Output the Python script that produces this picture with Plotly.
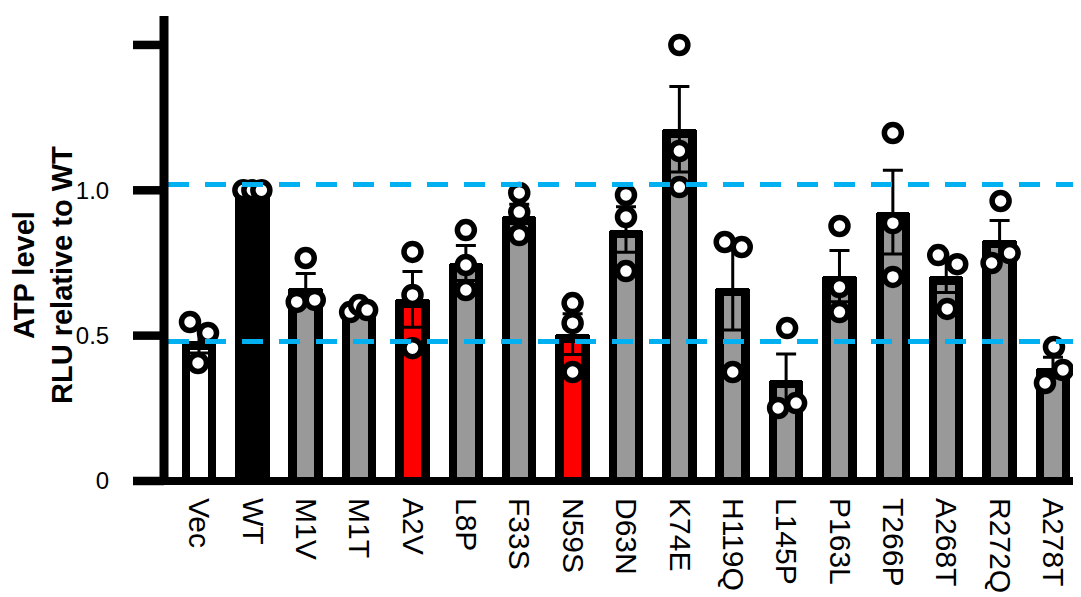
import plotly.graph_objects as go

# ---------------- data ----------------
categories = ["Vec", "WT", "M1V", "M1T", "A2V", "L8P", "F33S", "N59S", "D63N",
              "K74E", "H119Q", "L145P", "P163L", "T266P", "A268T", "R272Q", "A278T"]
means = [0.48, 1.00, 0.665, 0.59, 0.625, 0.75, 0.91, 0.505, 0.865,
         1.21, 0.665, 0.348, 0.705, 0.925, 0.705, 0.83, 0.39]
sems = [0.04, 0.0, 0.049, 0.007, 0.096, 0.06, 0.042, 0.07, 0.078,
        0.147, 0.146, 0.089, 0.088, 0.144, 0.057, 0.066, 0.036]
rep1 = [0.547, 1.0, 0.616, 0.581, 0.788, 0.863, 0.991, 0.612, 0.984,
        1.50, 0.822, 0.526, 0.877, 1.197, 0.777, 0.963, 0.461]
rep2 = [0.509, 1.0, 0.623, 0.605, 0.64, 0.743, 0.925, 0.543, 0.908,
        1.135, 0.805, 0.251, 0.667, 0.887, 0.746, 0.784, 0.382]
rep3 = [0.406, 1.0, 0.767, 0.588, 0.457, 0.657, 0.846, 0.375, 0.722,
        1.011, 0.375, 0.268, 0.581, 0.702, 0.592, 0.75, 0.337]
ref_lines = [1.02, 0.48]
y_ticks = [0, 0.5, 1.0, 1.5]
y_ticklabels = ["0", "0.5", "1.0", ""]

# ---------------- styling ----------------
FONT = "Liberation Sans, Arial, Helvetica, sans-serif"
GREY = "#999999"
special = {"Vec": "#FFFFFF", "WT": "#000000", "A2V": "#FF0000", "N59S": "#FF0000"}
fill_colors = [special.get(c, GREY) for c in categories]

# horizontal scatter of replicate dots (pixels)
jitter1 = [-9, -9, -9, -9, 0, 0, 0, 0, 0, 0, -8, 1, 0, 0, -8, 1, 1]
jitter2 = [9, 0, 9, 0, 0, 0, 0, 0, 0, 0, 9, -8, 0, 0, 11, 10, 10]
jitter3 = [-1, 9, 0, 8, 0, 0, 0, 0, 0, 0, 0, 10, 0, 0, 1, -8, -8]

# page body has an 8px margin -> figure is 8px smaller and shifted
W, H = 1073, 589
ML, MR, MT, MB = 125, 0, 8, 107
plot_w = W - ML - MR
plot_h = H - MT - MB
x_lo, x_hi = -1.2365, 16.525
px_per_x = plot_w / (x_hi - x_lo)
y_lo = -0.031
px_per_y = 290.7
y_hi = y_lo + plot_h / px_per_y

OUTLINE = 8.5
outer_w = 34.5 / px_per_x
inner_w = (34.5 - 2 * OUTLINE) / px_per_x
inner_h = [m - OUTLINE / px_per_y for m in means]

xs = list(range(len(categories)))

fig = go.Figure()
# outer (outline) bars
fig.add_trace(go.Bar(x=xs, y=means, width=outer_w,
                     marker=dict(color="#000000", line=dict(width=0), cornerradius=3),
                     hoverinfo="skip", showlegend=False))
# inner fill bars
fig.add_trace(go.Bar(x=xs, y=inner_h, width=inner_w,
                     marker=dict(color=fill_colors, line=dict(width=0)),
                     hoverinfo="skip", showlegend=False))
# error bars (mean +/- SEM)
fig.add_trace(go.Scatter(x=xs, y=means, mode="markers",
                         marker=dict(size=1, color="rgba(0,0,0,0)"),
                         error_y=dict(type="data", array=sems, visible=True, color="#000000",
                                      thickness=3, width=10),
                         hoverinfo="skip", showlegend=False))
# replicate points
for reps, jit in ((rep1, jitter1), (rep2, jitter2), (rep3, jitter3)):
    fig.add_trace(go.Scatter(
        x=[i + d / px_per_x for i, d in zip(xs, jit)], y=reps, mode="markers",
        marker=dict(symbol="circle", size=17, color="#FFFFFF",
                    line=dict(color="#000000", width=5.5)),
        hoverinfo="skip", showlegend=False))

shapes = []
yaxis_x = 31 / px_per_x + x_lo          # y-axis line 31px right of plot-area left edge
dash_x0 = 35 / px_per_x + x_lo
for r in ref_lines:
    shapes.append(dict(type="line", xref="x", yref="y", x0=dash_x0, x1=x_hi, y0=r, y1=r,
                       line=dict(color="#00B0F0", width=5, dash="21px,16px"), layer="above"))
# x axis line
shapes.append(dict(type="line", xref="x", yref="y", x0=x_lo, x1=x_hi - 0.12, y0=0, y1=0,
                   line=dict(color="#000000", width=8), layer="above"))
# y axis line
shapes.append(dict(type="line", xref="x", yref="y", x0=yaxis_x, x1=yaxis_x,
                   y0=-4 / px_per_y, y1=y_hi,
                   line=dict(color="#000000", width=9), layer="above"))
# y ticks
for t in y_ticks:
    shapes.append(dict(type="line", xref="x", yref="y", x0=x_lo, x1=yaxis_x, y0=t, y1=t,
                       line=dict(color="#000000", width=8.5), layer="above"))

fig.update_layout(
    width=W, height=H,
    margin=dict(l=ML, r=MR, t=MT, b=MB, pad=0),
    paper_bgcolor="#FFFFFF", plot_bgcolor="#FFFFFF",
    barmode="overlay", bargap=0,
    showlegend=False,
    shapes=shapes,
    font=dict(family=FONT, color="#000000"),
    xaxis=dict(range=[x_lo, x_hi], tickmode="array", tickvals=xs, ticktext=categories,
               tickangle=90, tickfont=dict(size=30, family=FONT, color="#000000"),
               ticks="outside", ticklen=1, tickcolor="rgba(0,0,0,0)",
               showline=False, showgrid=False, zeroline=False, automargin=False, fixedrange=True),
    yaxis=dict(range=[y_lo, y_hi], tickmode="array", tickvals=y_ticks, ticktext=y_ticklabels,
               tickfont=dict(size=24, family=FONT, color="#000000"),
               ticks="outside", ticklen=18, tickcolor="rgba(0,0,0,0)",
               showline=False, showgrid=False, zeroline=False, automargin=False, fixedrange=True),
    annotations=[dict(text="<b>ATP level</b><br><b>RLU relative to WT</b>",
                      xref="paper", yref="paper",
                      x=(35 - ML) / plot_w, y=(MT + plot_h - 267) / plot_h,
                      xanchor="center", yanchor="middle", textangle=-90, showarrow=False,
                      font=dict(size=29, family=FONT, color="#000000"), align="center")],
)

fig.write_html("out.html")
